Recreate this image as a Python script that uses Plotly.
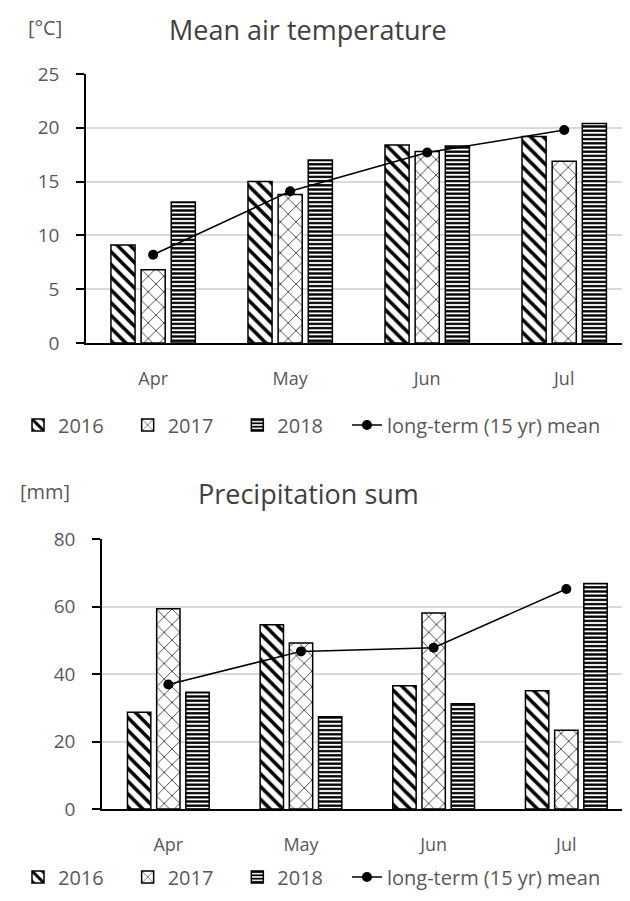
import plotly.graph_objects as go

months = ["Apr", "May", "Jun", "Jul"]
years = ["2016", "2017", "2018"]

temp_2016 = [9.1, 15.0, 18.4, 19.2]
temp_2017 = [6.8, 13.8, 17.8, 16.9]
temp_2018 = [13.1, 17.0, 18.3, 20.4]
temp_mean = [8.2, 14.1, 17.7, 19.8]

prec_2016 = [28.7, 54.6, 36.5, 35.0]
prec_2017 = [59.3, 49.2, 58.1, 23.3]
prec_2018 = [34.6, 27.3, 31.2, 66.8]
prec_mean = [36.9, 46.7, 47.8, 65.2]

mean_label = "long-term (15 yr) mean"

FONT = "Open Sans"
GRAY = "#595959"
PAD = "\u00a0" * 3 + "\u2009"

patterns = [
    dict(shape="\\", size=9, solidity=0.4, fgcolor="black", bgcolor="white", fgopacity=1),
    dict(shape="x", size=11, solidity=0.12, fgcolor="black", bgcolor="white", fgopacity=1),
    dict(shape="-", size=4.2, solidity=0.55, fgcolor="black", bgcolor="white", fgopacity=1),
]

fig = go.Figure()

def add_panel(vals, mean, xa, ya, leg):
    for i, (y, v) in enumerate(zip(years, vals)):
        fig.add_trace(go.Bar(
            x=months, y=v, name=y + PAD, xaxis=xa, yaxis=ya, legend=leg,
            marker=dict(color="white", line=dict(color="black", width=1.5),
                        pattern=patterns[i]),
        ))
    fig.add_trace(go.Scatter(
        x=months, y=mean, name=mean_label, xaxis=xa, yaxis=ya, legend=leg,
        mode="lines+markers", line=dict(color="black", width=1.5),
        marker=dict(color="black", size=10),
    ))

add_panel([temp_2016, temp_2017, temp_2018], temp_mean, "x", "y", "legend")
add_panel([prec_2016, prec_2017, prec_2018], prec_mean, "x2", "y2", "legend2")

# page body has an 8px margin; work in window pixel coordinates
OFF = 8
W, H = 630 - OFF, 901 - OFF

def px(p):
    return (p - OFF) / W

def py(p):
    return 1 - (p - OFF) / H

xcommon = dict(type="category", showgrid=False, showline=True, linecolor="black",
               linewidth=1.5, ticks="", tickfont=dict(family=FONT, size=18, color=GRAY),
               ticklabelstandoff=19)
ycommon = dict(showgrid=True, gridcolor="#d9d9d9", gridwidth=1.5, showline=True,
               linecolor="black", linewidth=1.5, ticks="outside", ticklen=8,
               tickcolor="black", tickwidth=1.5,
               tickfont=dict(family=FONT, size=19, color=GRAY), ticklabelstandoff=13,
               zeroline=False)

legcommon = dict(orientation="h", x=px(18), xanchor="left", yanchor="middle",
                 font=dict(family=FONT, size=20, color=GRAY),
                 itemwidth=30, tracegroupgap=0, traceorder="normal",
                 bgcolor="rgba(0,0,0,0)")

def label(text, x, y, size, color):
    return dict(text=text, x=px(x), y=py(y), xref="paper", yref="paper",
                xanchor="center", yanchor="middle", showarrow=False,
                font=dict(family=FONT, size=size, color=color))

fig.update_layout(
    width=W, height=H,
    margin=dict(l=0, r=0, t=0, b=0, autoexpand=False),
    paper_bgcolor="white", plot_bgcolor="white",
    barmode="group", bargap=0.34, bargroupgap=0.2,
    showlegend=True,
    xaxis=dict(**xcommon, domain=[px(86), 1], range=[-0.49, 3.48], anchor="y"),
    yaxis=dict(**ycommon, domain=[py(343), py(74)], range=[0, 25], dtick=5, anchor="x"),
    xaxis2=dict(**xcommon, domain=[px(102), 1], range=[-0.5, 3.48], anchor="y2"),
    yaxis2=dict(**ycommon, domain=[py(809), py(539)], range=[0, 80], dtick=20, anchor="x2"),
    legend=dict(**legcommon, y=py(425)),
    legend2=dict(**legcommon, y=py(877)),
    annotations=[
        label("[°C]", 45, 27, 20, GRAY),
        label("Mean air temperature", 308, 29, 27, "#404040"),
        label("[mm]", 45, 491, 20, GRAY),
        label("Precipitation sum", 308, 493, 27, "#404040"),
    ],
)

fig.write_html("out.html")
